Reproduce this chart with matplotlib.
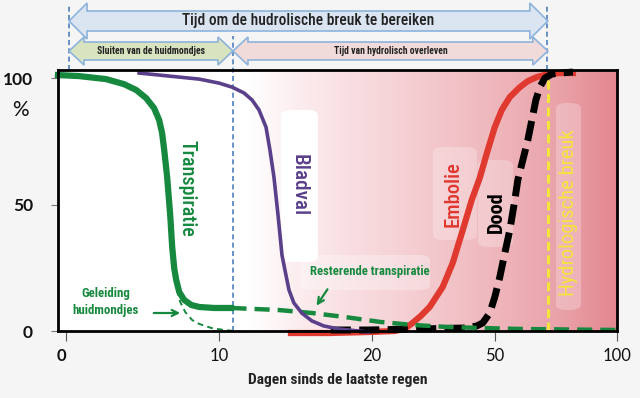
import numpy as np
import matplotlib
matplotlib.use("Agg")
import matplotlib.pyplot as plt
from matplotlib import font_manager as fm
from matplotlib.colors import LinearSegmentedColormap
from matplotlib.patches import Polygon, FancyBboxPatch
from matplotlib.transforms import IdentityTransform, ScaledTranslation, blended_transform_factory

# values: x = days since last rain, y = %
transp_days = [-0.52, 0.85, 2.61, 3.79, 4.58, 5.23, 5.75, 6.08, 6.27, 6.41, 6.60, 6.80,
               6.93, 7.06, 7.19, 7.39, 7.71, 8.17, 8.69, 9.67, 10.78]
transp_pct = [101.2, 100.8, 99.6, 97.6, 95.3, 92.1, 88.1, 83.4, 78.3, 71.5, 60.9, 45.8,
              33.2, 24.9, 20.2, 15.4, 12.3, 10.3, 9.5, 9.1, 9.1]

rest_days = [10.8, 13.9, 16.1, 18.3, 22.0, 30.0, 38.3, 46.3, 60.2, 100]
rest_pct = [9.1, 8.3, 7.1, 5.5, 3.6, 2.4, 1.6, 1.2, 0.8, 0.4]

geleid_days = [7.12, 7.25, 7.45, 7.78, 8.24, 8.69, 9.48, 10.3, 10.98]
geleid_pct = [24.1, 16.2, 11.5, 7.5, 4.3, 2.8, 1.2, 0.4, 0.0]

blad_days = [4.77, 6.73, 8.69, 10.0, 10.85, 11.63, 12.16, 12.61, 13.07, 13.33, 13.59,
             13.86, 14.12, 14.38, 14.58, 14.90, 15.42, 16.08, 16.86, 17.84, 19.80]
blad_pct = [102.0, 100.8, 99.6, 98.0, 96.4, 94.1, 91.3, 87.4, 80.6, 71.5, 60.9,
            45.8, 30.0, 22.1, 16.2, 11.1, 7.1, 4.0, 2.0, 0.8, -0.4]

emb_days = [14.71, 17.19, 19.8, 25.6, 28.05, 30.0, 31.95, 34.15, 37.32, 39.76, 42.2,
            44.39, 46.34, 48.29, 50.0, 52.87, 56.15, 60.25, 63.52, 67.21, 71.72,
            76.64, 81.97]
emb_pct = [-0.8, -0.8, -0.4, 0.0, 0.8, 3.2, 5.9, 9.5, 17.4, 26.9, 39.9,
           51.8, 60.5, 71.5, 80.6, 87.4, 92.5, 96.4, 98.8, 100.4, 101.6,
           102.0, 102.0]

dood_days = [17.32, 19.80, 31.7, 43.17, 45.61, 47.07, 48.78, 50.0, 52.05, 54.1, 56.15,
             58.2, 59.43, 61.48, 63.52, 65.16, 66.8, 68.44, 70.49, 73.36, 76.64, 81.97]
dood_pct = [0.4, 0.4, 0.8, 1.2, 2.0, 3.2, 7.1, 13.4, 21.3, 30.8, 39.9,
            51.8, 59.7, 67.6, 75.5, 83.4, 91.3, 96.4, 100.0, 101.6, 102.0, 102.4]

stomata_day = 10.9     # stomata closed
breuk_day = 71.7       # hydraulic failure
start_day = 0.2

x_ticks = [0, 10, 20, 50, 100]
y_ticks = [0, 50, 100]

GREEN = '#17893f'

# pick a narrow font if one is around
ttf = fm.fontManager.ttflist
names = {f.name for f in ttf}
NARROW, STRETCH = 'Roboto', 'normal'
for n in ['Liberation Sans Narrow', 'Roboto Condensed', 'Open Sans Condensed',
          'Noto Sans Condensed', 'DejaVu Sans Condensed']:
    if n in names:
        NARROW = n
        break
else:
    for f in ttf:
        if f.name in ('DejaVu Sans', 'Noto Sans', 'Roboto', 'Open Sans') and \
                str(f.stretch) in ('condensed', 'semi-condensed', 'extra-condensed'):
            NARROW, STRETCH = f.name, str(f.stretch)
            break
NF = dict(family=NARROW, fontstretch=STRETCH)

# the x axis in the original is stretched piecewise
knots_day = [-100, 0, 10, 20, 50, 100, 1000]
knots_u = [-1463, 67, 220, 372, 495, 617, 2813]


def fwd(x):
    return np.interp(x, knots_day, knots_u)


def inv(u):
    return np.interp(u, knots_u, knots_day)


fig = plt.figure(figsize=(6.4, 3.98), dpi=100, facecolor='#f5f5f5')
ax = fig.add_axes([58 / 640, 67 / 398, 559 / 640, 261 / 398])

# pink gradient behind the curves
bg = LinearSegmentedColormap.from_list('bg', [(0, 'white'), (0.34, 'white'), (0.45, '#fbe9eb'),
                                              (0.6, '#f6d3d7'), (0.75, '#f0bcc1'),
                                              (0.9, '#e9a2a9'), (1, '#e4878f')])
ax.imshow(np.linspace(0, 1, 256).reshape(1, -1), cmap=bg, extent=[0, 1, 0, 1],
          transform=ax.transAxes, aspect='auto', zorder=0)

ax.set_xscale('function', functions=(fwd, inv))
ax.set_xlim(-0.52, 100)
ax.set_ylim(0, 103.2)


def frac(px, py):
    # picture pixels -> axes fraction
    return (px - 58) / 559, (331 - py) / 261


# faint boxes behind the labels
for (x0, y0, x1, y1, a) in [(281, 110, 318, 262, 1.0), (433, 147, 477, 240, 0.25),
                            (478, 160, 513, 247, 0.25), (556, 103, 581, 310, 0.25),
                            (300, 255, 430, 290, 0.3)]:
    fx0, fy1 = frac(x0, y0)
    fx1, fy0 = frac(x1, y1)
    ax.add_patch(FancyBboxPatch((fx0, fy0), fx1 - fx0, fy1 - fy0,
                                boxstyle='round,pad=0,rounding_size=0.02',
                                transform=ax.transAxes, fc='white', ec='none',
                                alpha=a, zorder=1))

ax.plot(emb_days, emb_pct, color='#e0392f', lw=4.5, zorder=3, clip_on=False)
ax.plot(dood_days, dood_pct, color='black', lw=5, ls=(0, (2.9, 1.2)), zorder=4, clip_on=False)
ax.plot(rest_days, rest_pct, color=GREEN, lw=3.2, ls=(0, (3.4, 1.8)), zorder=5)
ax.plot(geleid_days, geleid_pct, color=GREEN, lw=1.4, ls=(0, (3, 2.2)), zorder=5, clip_on=False)
ax.plot(blad_days, blad_pct, color='#5a3f8a', lw=2.6, zorder=6, clip_on=False)
ax.plot(transp_days, transp_pct, color=GREEN, lw=4.5, zorder=7, clip_on=False)
ax.plot([breuk_day, breuk_day], [0, 101], color='#f4e53a', lw=2.2,
        ls=(0, (2.9, 1.5)), zorder=5, clip_on=False)

# blue dashed guides, reaching up into the arrow band
bt = blended_transform_factory(ax.transData, ax.transAxes)
ax.plot([stomata_day, stomata_day], [0, 1.13], transform=bt, color='#4f81bd', lw=1.2,
        ls=(0, (3, 2)), zorder=2, clip_on=False)
for d in [start_day, breuk_day - 0.4]:
    ax.plot([d, d], [1.0, 1.25], transform=bt, color='#4f81bd', lw=1.2,
            ls=(0, (3, 2)), clip_on=False)

for s in ax.spines.values():
    s.set_linewidth(2)
    s.set_color('black')
    s.set_zorder(8)

ax.set_xticks(x_ticks)
ax.set_xticklabels([str(t) for t in x_ticks], family='Lato', fontsize=12, color='#111')
ax.xaxis.set_minor_locator(matplotlib.ticker.NullLocator())
ax.tick_params(axis='x', direction='out', length=7, width=0.8, color='#555', pad=5)
first = ax.get_xticklabels()[0]
first.set_fontweight('bold')
first.set_transform(first.get_transform() + ScaledTranslation(-5 / 100, 0, fig.dpi_scale_trans))

ax.set_yticks(y_ticks)
ax.set_yticklabels([str(t) for t in y_ticks], family='Lato', fontsize=12.5, fontweight='bold',
                   color='#111')
ax.tick_params(axis='y', direction='out', length=5, width=0.8, color='#777', pad=13)
fig.text(20 / 640, 1 - 110 / 398, '%', family='Lato', fontsize=15, ha='center', va='center',
         color='#111')

xl = ax.set_xlabel('Dagen sinds de laatste regen', fontsize=10.5,
                   fontweight='bold', color='#222', labelpad=7, **NF)

# curve labels
lab = dict(ha='center', va='center', zorder=9, transform=ax.transAxes, **NF)
labels = [
    (ax.text(*frac(187, 188), 'Transpiratie', color=GREEN, fontsize=14, rotation=-90,
             fontweight='medium', **lab), 98),
    (ax.text(*frac(299, 185), 'Bladval', color='#5a3f8a', fontsize=14, rotation=-90,
             fontweight='medium', **lab), 62),
    (ax.text(*frac(453, 194), 'Embolie', color='#e0392f', fontsize=14, rotation=90,
             fontweight='medium', **lab), 66),
    (ax.text(*frac(496, 212), 'Dood', color='black', fontsize=13.5, rotation=90,
             fontweight='bold', **lab), 42),
    (ax.text(*frac(569, 213), 'Hydrologische breuk', color='#f4e53a', fontsize=14.5,
             rotation=90, **lab), 166),
    (ax.text(*frac(106, 302), 'Geleiding\nhuidmondjes', color=GREEN, fontsize=8.5,
             fontweight='bold', linespacing=1.4, **lab), 66),
    (ax.text(*frac(370, 272), 'Resterende transpiratie', color=GREEN, fontsize=8.5,
             fontweight='bold', **lab), 118),
    (xl, 180),
]
ax.annotate('', xy=frac(183, 313), xytext=frac(151, 313), xycoords='axes fraction',
            arrowprops=dict(arrowstyle='->', color=GREEN, lw=1.6, mutation_scale=11),
            zorder=9)
ax.annotate('', xy=frac(315, 308), xytext=frac(329, 287), xycoords='axes fraction',
            arrowprops=dict(arrowstyle='->', color=GREEN, lw=1.6, mutation_scale=11),
            zorder=9)


# double arrows above the plot
def px_x(day):
    return ax.transData.transform((day, 0))[0]


def double_arrow(x0, x1, yc, body, head, hl, fc):
    yc = 398 - yc
    pts = [(x0, yc), (x0 + hl, yc + head), (x0 + hl, yc + body), (x1 - hl, yc + body),
           (x1 - hl, yc + head), (x1, yc), (x1 - hl, yc - head), (x1 - hl, yc - body),
           (x0 + hl, yc - body), (x0 + hl, yc - head)]
    fig.add_artist(Polygon(pts, closed=True, fc=fc, ec='#8db3dc', lw=1.2,
                           transform=IdentityTransform()))


xa, xb, xc = px_x(start_day), px_x(stomata_day), px_x(breuk_day)
double_arrow(xa, xc, 21, 10, 18, 18, '#dae5f1')
double_arrow(xa, xb, 51, 9, 14, 15, '#d8e4bf')
double_arrow(xb, xc, 51, 9, 14, 15, '#f1dada')

top = dict(ha='center', va='center', color='#222', **NF)
labels += [
    (fig.text((xa + xc) / 2 / 640, 1 - 21 / 398, 'Tijd om de hudrolische breuk te bereiken',
              fontsize=11, fontweight='medium', **top), 252),
    (fig.text((xa + xb) / 2 / 640, 1 - 51 / 398, 'Sluiten van de huidmondjes',
              fontsize=7, fontweight='bold', **top), 108),
    (fig.text((xb + xc) / 2 / 640, 1 - 51 / 398, 'Tijd van hydrolisch overleven',
              fontsize=7, fontweight='bold', **top), 114),
]

# size the labels so that they take about the same room as in the original
renderer = fig.canvas.get_renderer()
for t, length in labels:
    bb = t.get_window_extent(renderer)
    cur = bb.height if t.get_rotation() % 180 == 90 else bb.width
    t.set_fontsize(t.get_fontsize() * length / cur)

fig.savefig('out.png', dpi=100, facecolor=fig.get_facecolor())
